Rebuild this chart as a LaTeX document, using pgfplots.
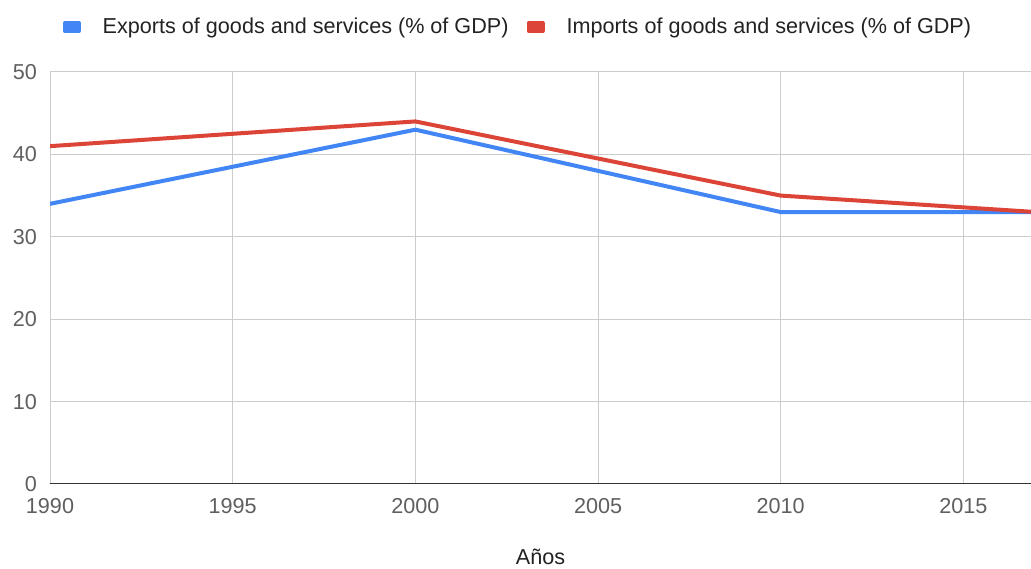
\documentclass[border=0pt]{standalone}
\usepackage{pgfplots}
\pgfplotsset{compat=1.18}
\usepackage{fontspec}
\setmainfont{Liberation Sans}
\definecolor{gblue}{HTML}{4285F4}
\definecolor{gred}{HTML}{DB4437}
\definecolor{ggrid}{HTML}{CCCCCC}
\definecolor{gtick}{HTML}{5F5F5F}
\definecolor{gtext}{HTML}{222222}
\begin{document}
\begin{tikzpicture}
\begin{axis}[
  name=ax,
  scale only axis,
  width=490.5pt, height=206pt,
  xmin=1990, xmax=2016.85,
  ymin=0, ymax=50,
  xtick={1990,1995,...,2015},
  ytick={0,10,...,50},
  xticklabel style={/pgf/number format/1000 sep={}, font=\fontsize{10.8pt}{13pt}\selectfont, text=gtick, yshift=-3.5pt},
  yticklabel style={font=\fontsize{10.8pt}{13pt}\selectfont, text=gtick, xshift=-3pt},
  /pgf/number format/assume math mode=true,
  grid=major,
  major grid style={ggrid, line width=0.5pt},
  axis line style={draw=none},
  tick style={draw=none},
  clip=true,
  xlabel={Años},
  xlabel style={at={(axis description cs:0.5,0)}, anchor=center, yshift=-36.5pt, font=\fontsize{10.8pt}{13pt}\selectfont, text=gtext},
  legend columns=2,
  legend style={draw=none, fill=none, at={(0.478,1)}, anchor=center, yshift=22.5pt,
    font=\fontsize{10.8pt}{13pt}\selectfont, text=gtext,
    /tikz/every odd column/.append style={column sep=9pt},
    /tikz/every even column/.append style={column sep=7pt}},
  legend image code/.code={\fill[#1] (0pt,-2pt) rectangle (7pt,2pt);},
]
\addplot[gblue, line width=2pt, line join=round] coordinates {(1990,34) (2000,43) (2010,33) (2017,33)};
\addlegendentry{Exports of goods and services (\% of GDP)}
\addplot[gred, line width=2pt, line join=round] coordinates {(1990,41) (2000,44) (2010,35) (2017,33)};
\addlegendentry{Imports of goods and services (\% of GDP)}
\draw[color=black!80, line width=1pt] (axis cs:1990,0) -- (axis cs:2016.85,0);
\end{axis}
\pgfresetboundingbox
\path[use as bounding box] ([shift={(-25pt,-42.5pt)}]ax.south west) rectangle ([shift={(0pt,36pt)}]ax.north east);
\end{tikzpicture}
\end{document}
